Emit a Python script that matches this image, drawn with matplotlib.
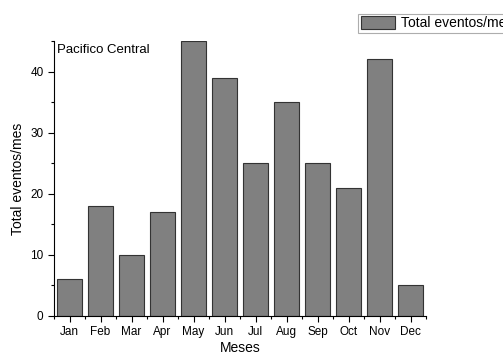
import numpy as np
import matplotlib.pyplot as plt
from matplotlib.ticker import MultipleLocator

plt.rcParams['font.family'] = ['Liberation Sans', 'DejaVu Sans']

months = ["Jan", "Feb", "Mar", "Apr", "May", "Jun",
          "Jul", "Aug", "Sep", "Oct", "Nov", "Dec"]
eventos = [6, 18, 10, 17, 45, 39, 25, 35, 25, 21, 42, 5]

fig = plt.figure(figsize=(5.03, 3.55), dpi=100)
ax = fig.add_axes([0.1074, 0.1099, 0.7396, 0.7746])

x = np.arange(1, len(months) + 1)
ax.bar(x, eventos, width=0.8, color="#808080", edgecolor="#333333",
       linewidth=0.8, label="Total eventos/mes")

ax.set_xlim(0.5, 12.5)
ax.set_ylim(0, 45)
ax.set_xticks(x)
ax.set_xticklabels(months, fontsize=8.5)
ax.xaxis.set_minor_locator(MultipleLocator(0.5))
ax.yaxis.set_major_locator(MultipleLocator(10))
ax.yaxis.set_minor_locator(MultipleLocator(5))
ax.tick_params(axis="both", which="major", direction="out", length=4,
               width=0.8, labelsize=8.5)
ax.tick_params(axis="both", which="minor", direction="out", length=2.5,
               width=0.8)
for s in ["top", "right"]:
    ax.spines[s].set_visible(False)
for s in ["left", "bottom"]:
    ax.spines[s].set_linewidth(0.8)

ax.set_xlabel("Meses", fontsize=10, labelpad=2)
ax.set_ylabel("Total eventos/mes", fontsize=10)
ax.text(0.008, 0.99, "Pacifico Central", transform=ax.transAxes,
        fontsize=9.5, va="top", ha="left")

leg = ax.legend(loc="upper left", bbox_to_anchor=(0.817, 1.10),
                frameon=True, fancybox=False, fontsize=10,
                handlelength=2.5, handleheight=1.0, handletextpad=0.4,
                borderpad=0.2, borderaxespad=0)
leg.get_frame().set_edgecolor("#999999")
leg.get_frame().set_linewidth(0.8)

fig.savefig("out.png", dpi=100)
